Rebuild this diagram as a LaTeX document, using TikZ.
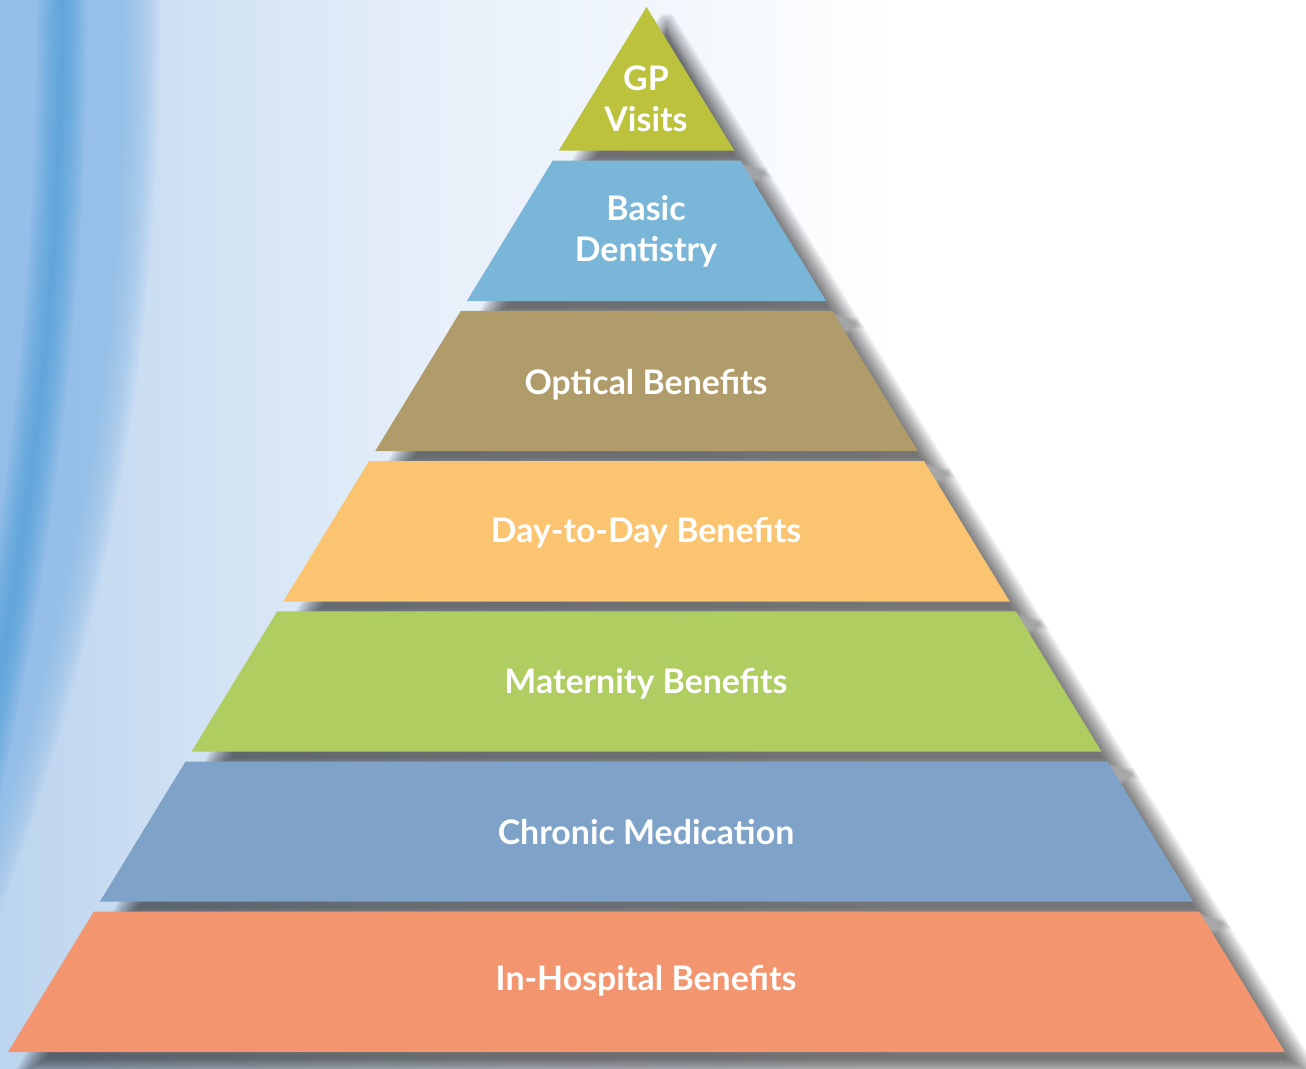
\documentclass[tikz,border=0pt]{standalone}
\usepackage{fontspec}
\setmainfont{Lato}
\definecolor{cGP}{RGB}{189,194,60}
\definecolor{cBD}{RGB}{122,182,216}
\definecolor{cOP}{RGB}{176,155,106}
\definecolor{cDD}{RGB}{251,196,113}
\definecolor{cMA}{RGB}{176,205,98}
\definecolor{cCM}{RGB}{127,162,200}
\definecolor{cIH}{RGB}{243,150,111}
\definecolor{bgA}{RGB}{188,212,238}
\definecolor{bgB}{RGB}{214,229,245}
\definecolor{bgC}{RGB}{232,240,250}
\definecolor{bgD}{RGB}{244,248,253}
\definecolor{curtain}{RGB}{140,188,232}
\definecolor{curtainDark}{RGB}{72,156,216}
\newcommand\bandshadow[2]{%
  \foreach \e in {-10,-8,...,10}{%
    \pgfmathsetmacro\yTop{#1-\e+17}%
    \pgfmathsetmacro\yBot{#2+\e+17}%
    \pgfmathsetmacro\hTop{max(0,0.611*(#1-\e-7)+\e*1.1717)}%
    \pgfmathsetmacro\hBot{0.611*(#2+\e-7)+\e*1.1717}%
    \fill[shadowlayer] (666.5-\hTop,\yTop) -- (666.5+\hTop,\yTop) -- (666.5+\hBot,\yBot) -- (666.5-\hBot,\yBot) -- cycle;
  }}
\newcommand\bandfill[3]{%
  \pgfmathsetmacro\hTop{max(0,0.611*(#1-7))}%
  \pgfmathsetmacro\hBot{0.611*(#2-7)}%
  \fill[#3] (646.5-\hTop,#1) -- (646.5+\hTop,#1) -- (646.5+\hBot,#2) -- (646.5-\hBot,#2) -- cycle;}
\begin{document}
\begin{tikzpicture}[x=1bp,y=-1bp,
  shadowlayer/.style={black,opacity=0.068},
  lbl/.style={text=white,font=\bfseries\fontsize{34}{36}\selectfont,inner sep=0pt,anchor=base}]
\useasboundingbox (0,0) rectangle (1306,1068);
% background wash
\fill[white] (0,0) rectangle (1306,1068);
\shade[left color=bgA,right color=bgB] (0,0) rectangle (250,1068);
\shade[left color=bgB,right color=bgC] (250,0) rectangle (450,1068);
\shade[left color=bgC,right color=bgD] (450,0) rectangle (700,1068);
\shade[left color=bgD,right color=white] (700,0) rectangle (900,1068);
% curtain
\begin{scope}
  \clip (0,0) rectangle (1306,1068);
  \foreach \i in {0,...,14}{
    \pgfmathsetmacro\w{2.5*\i}
    \fill[curtain,opacity=0.09] (-80,-10) -- (125+\w,-10) .. controls (125+\w,300) and (95+\w,600) .. (-70+\w,1000) -- (-80,1000) -- cycle;
  }
  \foreach \i in {1,...,10}{
    \draw[curtainDark,opacity=0.09,line width=5*\i] (62,-10) .. controls (62,250) and (40,500) .. (-30,820);
  }
\end{scope}
% shadows
\bandshadow{7}{150.5}
\bandshadow{160.5}{301}
\bandshadow{310.8}{451}
\bandshadow{461}{601.5}
\bandshadow{611.3}{751.5}
\bandshadow{761.5}{901.5}
\bandshadow{911.5}{1052}
% bands
\bandfill{7}{150.5}{cGP}
\bandfill{160.5}{301}{cBD}
\bandfill{310.8}{451}{cOP}
\bandfill{461}{601.5}{cDD}
\bandfill{611.3}{751.5}{cMA}
\bandfill{761.5}{901.5}{cCM}
\bandfill{911.5}{1052}{cIH}
% labels
\node[lbl] (gp1) at (646,90) {GP};
\node[lbl] (gp2) at (646,131) {Visits};
\node[lbl] (bd1) at (646,220) {Basic};
\node[lbl] (bd2) at (646,261) {Dentistry};
\node[lbl] (op) at (646,394) {Optical Benefits};
\node[lbl] (dd) at (646,542) {Day-to-Day Benefits};
\node[lbl] (ma) at (646,693) {Maternity Benefits};
\node[lbl] (cm) at (646,844) {Chronic Medication};
\node[lbl] (ih) at (646,990) {In-Hospital Benefits};
\end{tikzpicture}
\end{document}
